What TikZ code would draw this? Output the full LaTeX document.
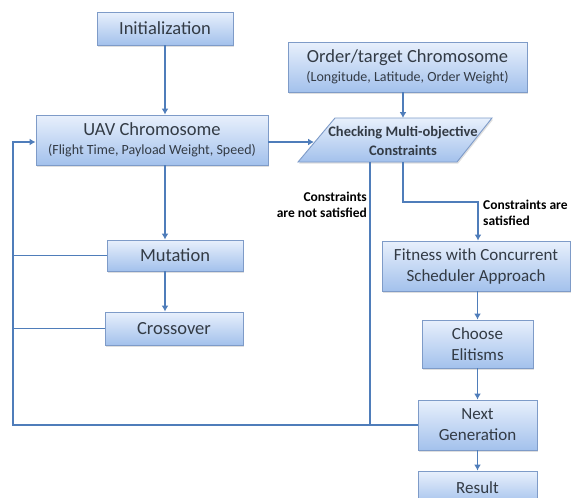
\documentclass[tikz,border=0pt]{standalone}
\usepackage{fontspec}
\setmainfont{Carlito}
\usetikzlibrary{arrows.meta,shadows}
\definecolor{linec}{HTML}{4F7DBA}
\definecolor{boxline}{HTML}{7E9BC8}
\definecolor{boxtop}{HTML}{E8F0FC}
\definecolor{boxbot}{HTML}{A3C1EC}
\definecolor{txt}{HTML}{333B45}
\tikzset{
  box/.style={draw=boxline, line width=0.9pt, top color=boxtop, bottom color=boxbot,
    drop shadow={opacity=0.25, shadow xshift=1.2pt, shadow yshift=-1.5pt},
    inner sep=0pt, align=center, text=txt, font=\fontsize{18.5}{20}\selectfont},
  rbox/.style={box, font=\fontsize{17}{21}\selectfont},
  conn/.style={draw=linec, line width=1.6pt},
  arr/.style={conn, -{Latex[length=6pt,width=7pt]}},
  lab/.style={font=\bfseries\fontsize{13.5}{16}\selectfont, inner sep=0pt}
}
\begin{document}
\begin{tikzpicture}[x=1pt,y=-1pt]
\useasboundingbox (0,0) rectangle (571,498);
\clip (0,0) rectangle (571,498);
\node[box, minimum width=136pt, minimum height=33pt] (init) at (165,28.5) {Initialization};
\node[box, minimum width=232pt, minimum height=50pt] (uav) at (152,140)
  {UAV Chromosome\\[-1pt]{\fontsize{14}{15}\selectfont(Flight Time, Payload Weight, Speed)}};
\node[box, minimum width=239pt, minimum height=50pt] (order) at (407.5,67)
  {Order/target Chromosome\\[-1pt]{\fontsize{14}{15}\selectfont(Longitude, Latitude, Order Weight)}};
% parallelogram
\path[draw=boxline, line width=0.9pt, top color=boxtop, bottom color=boxbot,
      drop shadow={opacity=0.25, shadow xshift=1.2pt, shadow yshift=-1.5pt}]
  (298,162) -- (335,118) -- (492,118) -- (457,162) -- cycle;
\node[align=center, text=txt, font=\bfseries\fontsize{14.5}{19}\selectfont, inner sep=0pt] (check) at (403,141)
  {Checking Multi-objective\\Constraints};
\coordinate (ptop) at (403,118);
\coordinate (pleft) at (314,142);
\coordinate (pb1) at (370,162);
\coordinate (pb2) at (403,162);
\node[box, minimum width=136pt, minimum height=31pt] (mut) at (175,255.5) {Mutation};
\node[box, minimum width=138pt, minimum height=33pt] (cross) at (174,328.5) {Crossover};
\node[rbox, minimum width=188pt, minimum height=50pt] (fit) at (476,266)
  {Fitness with Concurrent\\Scheduler Approach};
\node[rbox, minimum width=111pt, minimum height=48pt] (choose) at (477.5,344) {Choose\\Elitisms};
\node[rbox, minimum width=119pt, minimum height=50pt] (next) at (477.5,425) {Next\\Generation};
\node[rbox, minimum width=119pt, minimum height=34pt] (result) at (477.5,488) {Result};
% labels
\node[lab, anchor=east, align=right] (notsat) at (367,205) {Constraints\\are not satisfied};
\node[lab, anchor=west, align=left] (sat) at (483,213) {Constraints are\\satisfied};
% connectors
\draw[arr] (init.south) -- (init.south |- uav.north);
\draw[arr] (order.south -| ptop) -- (ptop);
\draw[arr] (uav.east |- pleft) -- (pleft);
\draw[arr] (uav.south -| init.south) -- (mut.north -| init.south);
\draw[arr] (mut.south -| init.south) -- (cross.north -| init.south);
\coordinate (loopbl) at (13,425);
\coordinate (looptl) at (13,142);
\draw[arr] (next.west) -- (loopbl) -- (looptl) -- (uav.west |- looptl);
\draw[conn] (13,255.5) -- (mut.west);
\draw[conn] (13,328.5) -- (cross.west);
\draw[conn] (pb1) -- (pb1 |- next.west);
\coordinate (sbend1) at (403,202);
\coordinate (sbend2) at (478,202);
\draw[arr] (pb2) -- (sbend1) -- (sbend2) -- (sbend2 |- fit.north);
\draw[arr] (choose.north |- fit.south) -- (choose.north);
\draw[arr] (choose.south) -- (choose.south |- next.north);
\draw[arr] (next.south) -- (result.north);
\end{tikzpicture}
\end{document}
